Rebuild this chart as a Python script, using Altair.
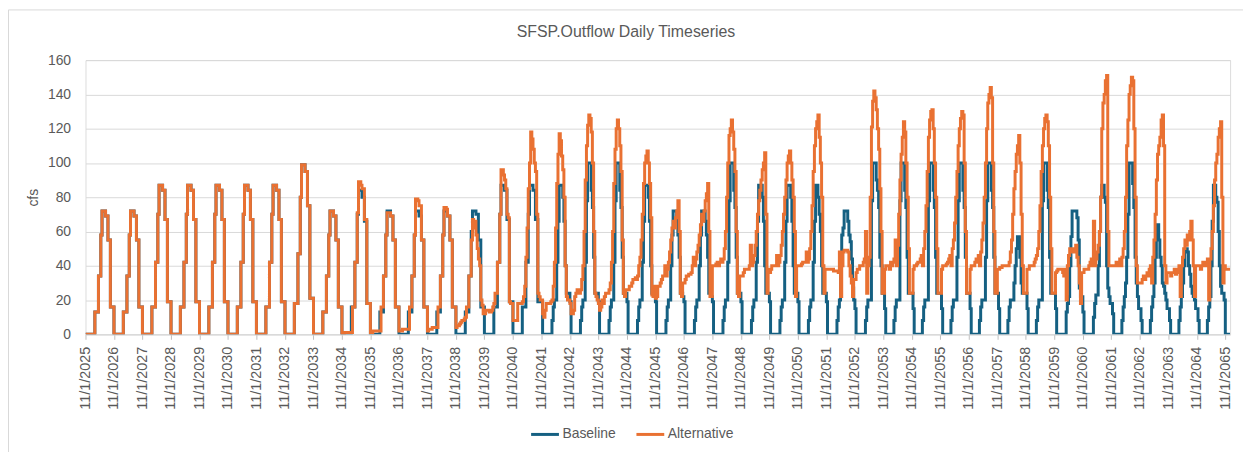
import altair as alt
import pandas as pd

TITLE = "SFSP.Outflow Daily Timeseries"
SERIES = ["Baseline", "Alternative"]
COLORS = ["#156082", "#E97132"]
Y_TICKS = [0, 20, 40, 60, 80, 100, 120, 140, 160]
FIRST_YEAR = 2025
LAST_YEAR = 2065

# Half-monthly values (cfs) for each water year, Nov 1 .. Oct 16 (24 values)
base_2025 = [0,0,0,0,0,0,0,0,13,13,13,34,34,58,72,72,72,69,69,55,55,16,16,16]
alt_2025  = [0,0,0,0,0,0,0,0,13,13,13,34,34,58,72,72,72,69,69,55,55,16,16,16]
base_2026 = [0,0,0,0,0,0,0,0,13,13,13,34,34,58,72,72,72,69,69,55,55,16,16,16]
alt_2026  = [0,0,0,0,0,0,0,0,13,13,13,34,34,58,72,72,72,69,69,55,55,16,16,16]
base_2027 = [0,0,0,0,0,0,0,0,16,16,16,42,42,70,87,87,87,84,84,67,67,19,19,19]
alt_2027  = [0,0,0,0,0,0,0,0,16,16,16,42,42,70,87,87,87,84,84,67,67,19,19,19]
base_2028 = [0,0,0,0,0,0,0,0,16,16,16,42,42,70,87,87,87,84,84,67,67,19,19,19]
alt_2028  = [0,0,0,0,0,0,0,0,16,16,16,42,42,70,87,87,87,84,84,67,67,19,19,19]
base_2029 = [0,0,0,0,0,0,0,0,16,16,16,42,42,70,87,87,87,84,84,67,67,19,19,19]
alt_2029  = [0,0,0,0,0,0,0,0,16,16,16,42,42,70,87,87,87,84,84,67,67,19,19,19]
base_2030 = [0,0,0,0,0,0,0,0,16,16,16,42,42,70,87,87,87,84,84,67,67,19,19,19]
alt_2030  = [0,0,0,0,0,0,0,0,16,16,16,42,42,70,87,87,87,84,84,67,67,19,19,19]
base_2031 = [0,0,0,0,0,0,0,0,16,16,16,42,42,70,87,87,87,84,84,67,67,19,19,19]
alt_2031  = [0,0,0,0,0,0,0,0,16,16,16,42,42,70,87,87,87,84,84,67,67,19,19,19]
base_2032 = [0,0,0,0,0,0,0,0,18,18,18,47,47,80,99,99,99,95,95,75,75,21,21,21]
alt_2032  = [0,0,0,0,0,0,0,0,18,18,18,47,47,80,99,99,99,95,95,75,75,21,21,21]
base_2033 = [0,0,0,0,0,0,0,0,13,13,13,34,34,58,72,72,72,69,69,55,55,16,16,16]
alt_2033  = [0,0,0,0,0,0,0,0,13,13,13,34,34,58,72,72,72,69,69,55,55,16,16,16]
base_2034 = [0,0,0,0,0,0,0,0,16,16,16,42,42,70,84,84,84,80,80,66,66,18,18,18]
alt_2034  = [0,0,1,1,1,1,1,1,1,16,16,42,42,71,89,89,87,85,85,67,67,18,18,18]
base_2035 = [0,0,0,0,0,0,0,0,13,13,13,34,34,58,72,72,72,69,69,55,55,16,16,16]
alt_2035  = [1,1,2,2,2,2,2,2,2,16,16,34,34,58,71,71,71,69,69,55,55,16,16,16]
base_2036 = [0,0,0,0,0,0,0,0,13,13,13,34,34,58,72,72,72,69,69,55,55,16,16,16]
alt_2036  = [2,2,2,3,3,3,3,3,3,16,16,34,34,58,79,79,78,75,75,55,55,16,16,16]
base_2037 = [0,0,0,0,0,0,0,0,13,13,13,34,34,58,72,72,72,69,69,55,55,16,16,16]
alt_2037  = [2,3,3,3,4,4,4,4,4,16,16,34,34,58,74,74,73,69,69,55,55,16,16,16]
base_2038 = [0,0,0,0,0,0,0,0,13,13,13,34,34,60,72,72,72,70,70,55,55,16,16,16]
alt_2038  = [4,5,5,6,7,8,8,9,10,16,16,34,34,55,67,62,66,58,50,44,40,20,17,12]
base_2039 = [0,0,0,0,0,0,0,0,16,16,16,42,42,70,87,87,87,84,84,67,67,19,19,19]
alt_2039  = [12,14,14,14,13,13,14,16,18,24,24,42,42,70,96,96,93,90,85,70,68,19,18,18]
base_2040 = [0,0,0,0,0,0,0,0,16,16,16,42,42,70,87,87,87,84,84,67,67,19,19,19]
alt_2040  = [8,8,8,8,18,18,18,18,19,22,28,45,62,85,100,118,114,108,100,95,70,24,22,20]
base_2041 = [19,0,0,0,0,0,0,0,0,8,16,20,20,42,66,87,87,87,80,66,40,24,24,24]
alt_2041  = [20,12,10,14,18,18,18,18,19,20,28,42,62,88,105,117,113,104,96,80,40,22,20,20]
base_2042 = [19,0,0,0,0,0,0,0,0,8,16,20,20,42,78,100,100,100,84,74,45,24,24,24]
alt_2042  = [18,12,12,14,22,24,26,26,24,26,32,40,60,90,110,122,128,126,118,100,60,24,22,20]
base_2043 = [19,0,0,0,0,0,0,0,0,8,16,20,20,42,78,100,100,100,84,74,45,24,24,24]
alt_2043  = [18,14,16,20,18,22,24,24,24,26,30,42,60,88,108,120,125,120,110,95,55,24,22,26]
base_2044 = [19,0,0,0,0,0,0,0,0,8,16,20,20,42,66,87,87,87,80,66,40,24,24,24]
alt_2044  = [26,26,28,28,30,32,32,33,32,34,40,45,55,70,88,100,104,107,100,88,68,23,22,28]
base_2045 = [19,0,0,0,0,0,0,0,0,8,16,20,20,40,58,72,72,72,66,58,45,24,24,22]
alt_2045  = [21,22,28,28,30,32,34,34,40,34,38,42,48,55,62,66,62,68,72,78,60,24,22,30]
base_2046 = [19,0,0,0,0,0,0,0,0,8,16,20,20,40,58,72,72,72,66,58,45,24,24,22]
alt_2046  = [30,32,34,34,35,35,36,40,45,40,44,48,52,58,64,70,66,72,78,82,88,60,22,22]
base_2047 = [19,0,0,0,0,0,0,0,0,8,16,20,20,42,78,100,100,100,84,74,45,24,24,24]
alt_2047  = [40,40,40,41,42,40,42,44,42,44,50,60,80,100,116,120,125,118,108,95,60,24,22,34]
base_2048 = [19,0,0,0,0,0,0,0,0,8,16,20,20,42,66,87,87,87,80,66,40,24,24,24]
alt_2048  = [34,34,36,38,38,38,38,40,52,40,42,46,52,60,70,78,84,90,96,100,106,70,24,38]
base_2049 = [19,0,0,0,0,0,0,0,0,8,16,20,20,42,66,87,87,87,80,66,40,24,24,24]
alt_2049  = [36,38,40,40,40,40,46,40,42,46,52,60,70,80,90,100,104,107,100,90,80,60,22,40]
base_2050 = [19,0,0,0,0,0,0,0,0,8,16,20,20,42,66,87,87,80,70,60,40,24,24,24]
alt_2050  = [40,40,40,41,42,42,42,48,42,44,50,60,75,95,110,120,124,128,115,100,80,40,24,38]
base_2051 = [19,0,0,0,0,0,0,0,0,8,16,20,45,58,62,72,72,72,66,58,54,44,27,20]
alt_2051  = [38,38,38,38,38,38,37,37,37,37,36,48,22,40,48,49,49,49,48,40,34,30,22,32]
base_2052 = [15,0,0,0,0,0,0,0,0,8,16,20,20,20,78,100,100,100,90,84,74,45,40,24]
alt_2052  = [32,36,38,38,40,40,40,42,44,60,24,40,45,80,121,136,142,138,131,120,108,85,60,24]
base_2053 = [24,15,0,0,0,0,0,0,0,8,16,20,20,20,78,100,100,100,84,74,45,24,24,24]
alt_2053  = [24,38,40,40,40,38,42,40,42,44,55,40,52,70,90,105,115,124,118,100,80,50,24,24]
base_2054 = [24,15,0,0,0,0,0,0,0,8,16,20,20,20,78,100,100,100,84,74,45,24,24,24]
alt_2054  = [24,38,40,40,41,42,42,44,46,40,50,60,75,95,115,125,130,131,120,100,80,50,24,24]
base_2055 = [24,15,0,0,0,0,0,0,0,8,16,20,20,20,45,78,100,100,100,84,74,45,24,24]
alt_2055  = [24,38,40,40,40,41,42,44,46,40,50,55,65,80,95,110,120,126,130,128,100,60,24,24]
base_2056 = [24,15,0,0,0,0,0,0,0,8,16,20,20,20,45,78,100,100,100,84,74,45,24,24]
alt_2056  = [24,38,40,40,40,42,44,42,46,40,48,55,65,80,100,120,135,140,144,138,100,60,24,24]
base_2057 = [24,15,0,0,0,0,0,0,0,8,16,20,20,20,30,40,50,57,57,45,30,24,24,24]
alt_2057  = [38,38,39,39,40,40,40,40,40,40,42,48,55,70,85,95,105,110,116,100,70,40,24,24]
base_2058 = [24,15,0,0,0,0,0,0,0,8,16,20,20,20,78,100,100,100,84,74,45,24,24,24]
alt_2058  = [24,38,38,40,40,40,40,42,44,46,50,60,75,95,110,120,126,128,124,110,80,50,24,24]
base_2059 = [24,15,0,0,0,0,0,0,0,0,13,18,22,40,57,72,72,72,72,68,55,27,22,22]
alt_2059  = [24,36,37,38,38,38,38,36,34,38,20,40,46,50,48,48,50,48,52,45,40,30,18,36]
base_2060 = [13,0,0,0,0,0,0,0,0,10,18,23,23,40,60,80,87,87,80,77,40,27,22,18]
alt_2060  = [36,38,38,38,38,40,42,44,40,66,40,44,48,52,60,80,120,135,140,148,151,60,40,40]
base_2061 = [18,12,0,0,0,0,0,0,0,8,16,22,30,45,70,100,100,100,88,74,45,30,22,15]
alt_2061  = [40,40,40,40,42,40,42,44,40,45,50,60,80,110,125,140,145,150,148,120,80,40,30,30]
base_2062 = [15,8,0,0,0,0,0,0,0,8,16,22,30,45,64,64,55,45,40,30,28,24,20,15]
alt_2062  = [30,30,32,34,32,34,36,34,38,40,30,45,55,70,90,105,110,115,125,128,110,40,30,36]
base_2063 = [15,8,0,0,0,0,0,0,0,8,16,22,30,40,48,50,48,40,35,28,24,22,20,15]
alt_2063  = [36,36,34,36,36,38,35,38,36,40,22,40,45,50,55,52,58,55,60,66,55,40,22,40]
base_2064 = [15,8,0,0,0,0,0,0,0,8,16,22,40,66,87,87,80,77,60,40,28,24,24,20]
alt_2064  = [40,40,40,38,40,42,40,40,42,44,20,44,50,60,75,90,100,105,115,120,124,80,30,40]
# Nov-Dec 2065 after the last water year
base_2065 = [0,0,0,0]
alt_2065  = [38,38,38,38]

g = globals()
rows = []


def add(series, year, vals):
    for h, v in enumerate(vals):
        month = (10 + h // 2) % 12 + 1
        yr = year if month >= 11 else year + 1
        day = 1 if h % 2 == 0 else 16
        rows.append({"date": f"{yr:04d}-{month:02d}-{day:02d}", "series": series, "cfs": v})


for year in range(FIRST_YEAR, LAST_YEAR + 1):
    add("Baseline", year, g[f"base_{year}"])
    add("Alternative", year, g[f"alt_{year}"])
rows.append({"date": "2066-01-01", "series": "Baseline", "cfs": base_2065[-1]})
rows.append({"date": "2066-01-01", "series": "Alternative", "cfs": alt_2065[-1]})
df = pd.DataFrame(rows)

FONT = "Liberation Sans"
TEXT = "#595959"
tick_dates = [alt.DateTime(year=y, month=11, date=1, utc=True) for y in range(FIRST_YEAR, LAST_YEAR + 1)]

x = alt.X(
    "date:T",
    scale=alt.Scale(type="utc", domain=[alt.DateTime(year=2025, month=11, date=1, utc=True),
                                        alt.DateTime(year=2066, month=1, date=1, utc=True)]),
    axis=alt.Axis(values=tick_dates, labelExpr="utcFormat(datum.value, '%-m/%-d/%Y')",
                  labelAngle=270, labelFontSize=14.5, labelFont=FONT, labelColor=TEXT,
                  tickSize=5, tickColor="#BFBFBF", domainColor="#D9D9D9", grid=False,
                  labelPadding=7, labelOverlap=False),
    title=None,
)
y = alt.Y(
    "cfs:Q",
    scale=alt.Scale(domain=[0, 160]),
    axis=alt.Axis(values=Y_TICKS, grid=True, gridColor="#D9D9D9", gridWidth=1, domain=False,
                  ticks=False, labelPadding=15, labelFontSize=14, labelFont=FONT, labelColor=TEXT,
                  titleFontSize=14, titleFont=FONT, titleColor=TEXT, titleFontWeight="normal",
                  titleAngle=270, titleX=-52, titleY=138, titleAlign="center", titleBaseline="middle"),
    title="cfs",
)
color = alt.Color(
    "series:N",
    scale=alt.Scale(domain=SERIES, range=COLORS),
    legend=alt.Legend(orient="none", legendX=447, legendY=361, direction="horizontal",
                      symbolType="stroke", symbolSize=784, symbolStrokeWidth=3,
                      labelFontSize=14, labelFont=FONT, labelColor=TEXT, labelOffset=2,
                      columnPadding=14, padding=0),
    title=None,
)

lines = alt.Chart(df).mark_line(interpolate="step-after", strokeWidth=3, clip=True).encode(
    x=x, y=y, color=color)
base_layer = lines.transform_filter(alt.datum.series == "Baseline")
alt_layer = lines.transform_filter(alt.datum.series == "Alternative")

frame = alt.Chart(pd.DataFrame({"f": [0]})).mark_rect(
    fillOpacity=0, stroke="#D9D9D9", strokeWidth=1).encode(
    x=alt.value(-77.5), x2=alt.value(1175), y=alt.value(-50.5), y2=alt.value(410))

title_text = alt.Chart(pd.DataFrame({"t": [TITLE]})).mark_text(
    font=FONT, fontSize=16, color=TEXT, align="center", baseline="alphabetic").encode(
    text="t:N", x=alt.value(544), y=alt.value(-23.5))

chart = alt.layer(frame, base_layer, alt_layer, title_text).properties(
    width=1152, height=276,
    autosize=alt.AutoSizeParams(type="none"),
    padding={"left": 78, "top": 51, "right": 13, "bottom": 117},
).configure_view(strokeWidth=0).configure(background="white")

chart.save("out.html", embed_options={"renderer": "svg", "actions": False})
